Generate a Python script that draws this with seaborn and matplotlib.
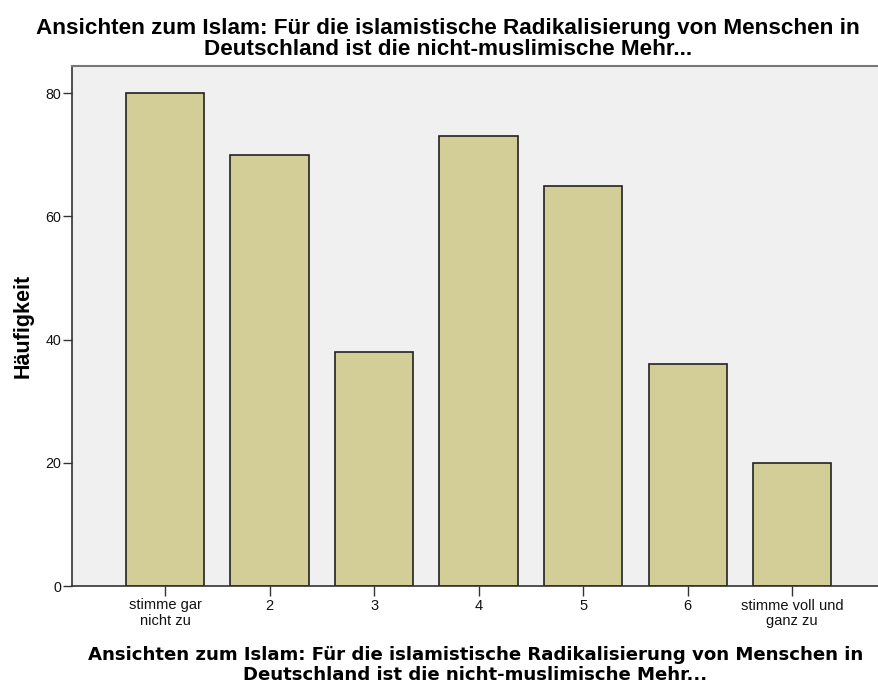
import matplotlib
matplotlib.use("Agg")
import matplotlib.pyplot as plt
import seaborn as sns
import pandas as pd

categories = ["stimme gar\nnicht zu", "2", "3", "4", "5", "6", "stimme voll und\nganz zu"]
values = [80, 70, 38, 73, 65, 36, 20]
yticks = [0, 20, 40, 60, 80]

title = ("Ansichten zum Islam: Für die islamistische Radikalisierung von Menschen in\n"
         "Deutschland ist die nicht-muslimische Mehr...")

sns.set_style("white")
plt.rcParams['font.family'] = ['Liberation Sans', 'DejaVu Sans']
plt.rcParams['text.color'] = 'black'
plt.rcParams['axes.labelcolor'] = 'black'
plt.rcParams['xtick.color'] = 'black'
plt.rcParams['ytick.color'] = 'black'

df = pd.DataFrame({"cat": categories, "val": values})

fig = plt.figure(figsize=(8.79, 6.84), dpi=100)
ax = fig.add_axes([72/879, 98/684, 1 - 72/879, 520/684])
ax.set_facecolor("#f0f0f0")

sns.barplot(data=df, x="cat", y="val", ax=ax, color="#d3ce97", saturation=1,
            width=0.75, edgecolor="#222222", linewidth=1.2)

ax.set_xlim(-0.89, 6.83)
ax.set_ylim(0, 84.4)
ax.set_yticks(yticks)
ax.set_yticklabels([str(t) for t in yticks], fontsize=10.3)
ax.tick_params(axis='y', left=True, length=6.5, width=1, color="#333333", labelcolor="#111111", pad=1, direction='out')
ax.tick_params(axis='x', bottom=True, length=7, width=1, color="#333333", labelcolor="#111111", pad=2, direction='out', labelsize=10.5)
plt.setp(ax.get_xticklabels(), linespacing=1.1)

for s in ["left", "bottom"]:
    ax.spines[s].set_color("#333333")
    ax.spines[s].set_linewidth(1.2)
ax.spines["top"].set_color("#777777")
ax.spines["top"].set_linewidth(1.5)
ax.spines["right"].set_visible(False)

ax.set_ylabel("Häufigkeit", fontsize=15.5, fontweight="bold", labelpad=9, color="black")
ax.set_xlabel(title, fontsize=13.1, fontweight="bold", labelpad=13.5, linespacing=1.1,
              family="DejaVu Sans", color="black")

fig.text(448/879, 1 - 39/684, title, ha="center", va="center", fontsize=16.2,
         fontweight="bold", linespacing=0.98, color="black")

fig.savefig("out.png", dpi=100)
